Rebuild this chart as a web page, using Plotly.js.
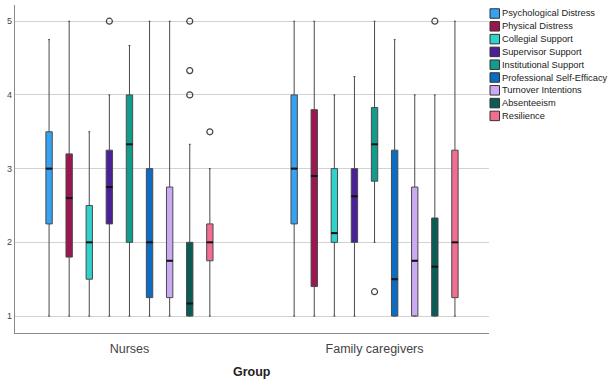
<!DOCTYPE html>
<html><head><meta charset="utf-8">
<script src="https://cdn.plot.ly/plotly-3.0.1.min.js"></script>
<style>html,body{margin:0;padding:0;background:#fff}#chart{width:613px;height:379px}</style>
</head><body><div id="chart"></div>
<script>
// ---- data ----
var groups = ['Nurses', 'Family caregivers'];
var seriesNames = ['Psychological Distress','Physical Distress','Collegial Support','Supervisor Support','Institutional Support','Professional Self-Efficacy','Turnover Intentions','Absenteeism','Resilience'];
var colors = ['#36a3f2','#9c1650','#2fd3cb','#4a2197','#109d8e','#0a6cc3','#c9aaf3','#0b5c56','#f26d92'];
// [Nurses, Family caregivers]
var lowerFence = [[1,1],[1,1],[1,1],[1,1],[1,2],[1,1],[1,1],[1,1],[1,1]];
var q1Vals     = [[2.25,2.25],[1.8,1.4],[1.5,2],[2.25,2],[2,2.83],[1.25,1],[1.25,1],[1,1],[1.75,1.25]];
var medianVals = [[3,3],[2.6,2.9],[2,2.125],[2.75,2.625],[3.33,3.33],[2,1.5],[1.75,1.75],[1.17,1.67],[2,2]];
var q3Vals     = [[3.5,4],[3.2,3.8],[2.5,3],[3.25,3],[4,3.83],[3,3.25],[2.75,2.75],[2,2.33],[2.25,3.25]];
var upperFence = [[4.75,5],[5,5],[3.5,4],[4,4.25],[4.67,5],[5,4.75],[5,4],[3.33,4],[3,5]];
var outliersNurses = [[],[],[],[5],[],[],[],[4,4.33,5],[3.5]];
var outliersFamily = [[],[],[],[],[1.33],[],[],[5],[]];
var yTicks = [1,2,3,4,5];

// ---- layout constants ----
var W = 613, H = 379;
var M = {l:15, r:124, t:5, b:46};
var step = 0.082, boxW = 0.026;
function px2paperX(px){ return (px - M.l) / (W - M.l - M.r); }
function px2paperY(py){ return (H - M.b - py) / (H - M.t - M.b); }

var traces = [];
seriesNames.forEach(function(name, s){
  var off = (s - (seriesNames.length-1)/2) * step;
  var xs = groups.map(function(g, gi){ return gi + off; });
  traces.push({
    type:'box', name:name, x:xs,
    q1:q1Vals[s], median:medianVals[s], q3:q3Vals[s],
    lowerfence:lowerFence[s], upperfence:upperFence[s],
    width: boxW, whiskerwidth: 0.3,
    fillcolor: colors[s],
    line:{color:'#4a4a4a', width:1},
    showlegend:false, hoverinfo:'skip'
  });
  // thicker median bars
  var mx = [], my = [];
  groups.forEach(function(g, gi){
    mx.push(gi + off - boxW/2, gi + off + boxW/2, null);
    my.push(medianVals[s][gi], medianVals[s][gi], null);
  });
  traces.push({type:'scatter', mode:'lines', x:mx, y:my, showlegend:false, hoverinfo:'skip',
    line:{color:'#111', width:2}});
  var ox = [], oy = [];
  outliersNurses[s].forEach(function(v){ ox.push(0 + off); oy.push(v); });
  outliersFamily[s].forEach(function(v){ ox.push(1 + off); oy.push(v); });
  if (ox.length) traces.push({
    type:'scatter', mode:'markers', x:ox, y:oy, showlegend:false, hoverinfo:'skip',
    marker:{symbol:'circle-open', size:6, color:'#444', line:{width:1.2, color:'#444'}}
  });
});

// custom legend
var shapes = [], annotations = [];
var legX = 490, legY0 = 13.5, legDy = 12.8, sq = 9.5;
seriesNames.forEach(function(name, s){
  var cy = legY0 + s*legDy;
  shapes.push({type:'rect', xref:'paper', yref:'paper',
    x0:px2paperX(legX), x1:px2paperX(legX+sq), y0:px2paperY(cy+sq/2), y1:px2paperY(cy-sq/2),
    fillcolor:colors[s], line:{color:'#333', width:1}});
  annotations.push({xref:'paper', yref:'paper', x:px2paperX(legX+sq+1.5), y:px2paperY(cy),
    xanchor:'left', yanchor:'middle', showarrow:false, text:name, borderpad:0,
    font:{family:'Liberation Sans, Arial, sans-serif', size:9.3, color:'#222'}});
});
annotations.push({xref:'paper', yref:'paper', x:px2paperX(252), y:px2paperY(371.5),
  xanchor:'center', yanchor:'middle', showarrow:false, text:'<b>Group</b>',
  font:{family:'Liberation Sans, Arial, sans-serif', size:12.5, color:'#222'}});

var layout = {
  width:W, height:H, margin:M,
  paper_bgcolor:'#fff', plot_bgcolor:'#fff',
  showlegend:false,
  xaxis:{range:[-0.467,1.467], tickvals:[0,1], ticktext:groups, showgrid:false, zeroline:false,
    showline:true, linecolor:'#8a8a8a', linewidth:1.2, ticks:'', ticklabelstandoff:4,
    tickfont:{family:'Liberation Sans, Arial, sans-serif', size:12.5, color:'#444'}},
  yaxis:{range:[0.77,5.22], tickvals:yTicks, showgrid:true, gridcolor:'#d2d2d2', gridwidth:1,
    zeroline:false, showline:true, linecolor:'#8a8a8a', linewidth:1.2, ticks:'',
    tickfont:{family:'Liberation Sans, Arial, sans-serif', size:9, color:'#444'}},
  shapes:shapes, annotations:annotations
};
Plotly.newPlot('chart', traces, layout, {displayModeBar:false, staticPlot:true});
</script></body></html>
